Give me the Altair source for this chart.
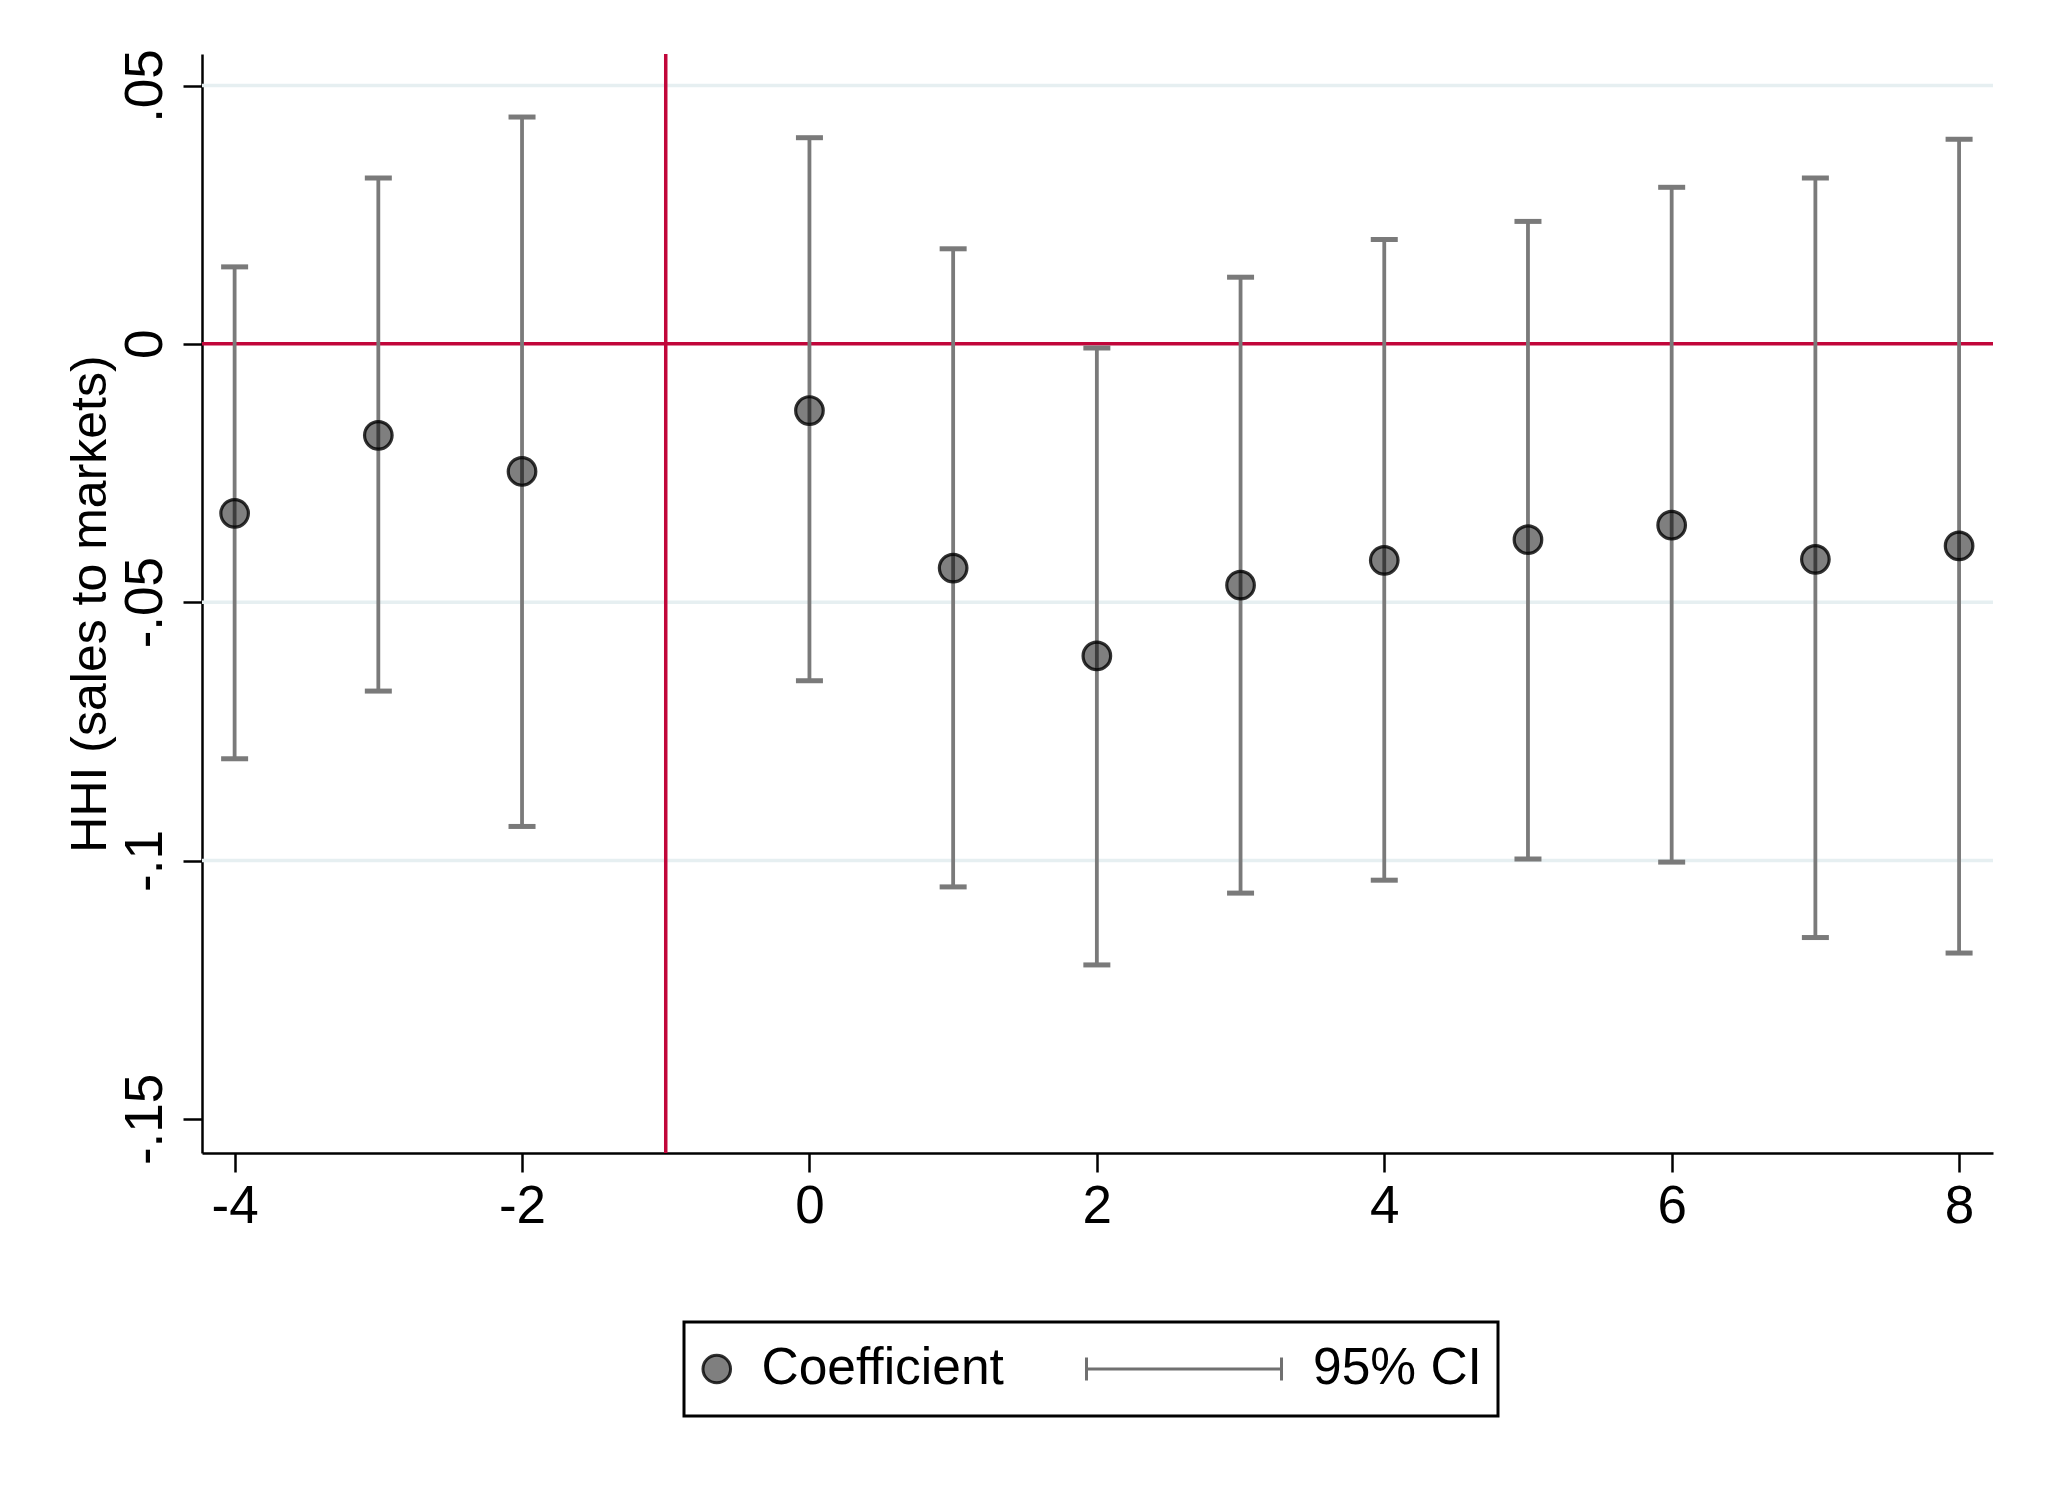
import altair as alt
import pandas as pd

# ---- data ----
periods = [-4, -3, -2, 0, 1, 2, 3, 4, 5, 6, 7, 8]
coef = [-0.0328, -0.0177, -0.0247, -0.0129, -0.0434, -0.0604, -0.0467, -0.0419, -0.0379, -0.0351, -0.0417, -0.0391]
ci_low = [-0.0803, -0.0672, -0.0934, -0.0652, -0.1051, -0.1202, -0.1063, -0.1038, -0.0997, -0.1003, -0.1149, -0.1179]
ci_high = [0.0149, 0.0321, 0.0439, 0.0399, 0.0184, -0.0008, 0.0129, 0.0202, 0.0237, 0.0303, 0.0321, 0.0396]
y_ticks = [0.05, 0, -0.05, -0.1, -0.15]
x_ticks = [-4, -2, 0, 2, 4, 6, 8]
grid_vals = [0.05, -0.05, -0.1]
zero_line = [0]
event_line = [-1]
series_names = ["Coefficient", "95% CI"]
y_title = "HHI (sales to markets)"

df = pd.DataFrame({"period": periods, "coef": coef, "lo": ci_low, "hi": ci_high,
                   "series": [series_names[0]] * len(periods)})
grid_df = pd.DataFrame({"g": grid_vals})
zero_df = pd.DataFrame({"z": zero_line})
event_df = pd.DataFrame({"e": event_line})

FONT = "Liberation Sans"
RED = "#c1063a"
GRAY = "#7a7a7a"
PT_FILL = "rgba(0,0,0,0.5)"
PT_STROKE = "rgba(0,0,0,0.8)"
PT_SIZE = 760

xs = alt.Scale(domain=[-4.227, 8.236], nice=False, zero=False)
ys = alt.Scale(domain=[-0.1566, 0.0561], nice=False, zero=False)

x_axis = alt.Axis(values=x_ticks, title=None, labelExpr="toString(datum.value)",
                  labelPadding=8, labelFlush=False, labelFontSize=53)
y_axis = alt.Axis(values=y_ticks, title=y_title,
                  labelExpr="replace(toString(datum.value), '0.', '.')",
                  labelAngle=270, labelAlign="center", labelBaseline="alphabetic",
                  labelPadding=22, labelFlush=False, labelOverlap=False, labelFontSize=53,
                  titleFontSize=50, titleFontWeight="normal", titlePadding=4)

X = lambda f: alt.X(f, type="quantitative", scale=xs, axis=x_axis)
Y = lambda f: alt.Y(f, type="quantitative", scale=ys, axis=y_axis)

grid = alt.Chart(grid_df).mark_rule(color="#e6eff1", strokeWidth=3.5).encode(y=Y("g"))
hline = alt.Chart(zero_df).mark_rule(color=RED, strokeWidth=3.5).encode(y=Y("z"))
vline = alt.Chart(event_df).mark_rule(color=RED, strokeWidth=3.5).encode(x=X("e"))

stems = alt.Chart(df).mark_rule(color=GRAY, strokeWidth=3.8).encode(
    x=X("period"), y=Y("lo"), y2="hi")

caps = alt.Chart(df).transform_fold(["lo", "hi"], as_=["end", "val"]).mark_tick(
    orient="horizontal", size=27, thickness=5, color=GRAY, opacity=1).encode(
    x=X("period"), y=Y("val"))

points = alt.Chart(df).mark_point(
    shape="circle", filled=True, size=PT_SIZE, fill=PT_FILL, stroke=PT_STROKE,
    strokeWidth=3.2, opacity=1).encode(x=X("period"), y=Y("coef"))

# legend-only layer (no rows drawn); symbols are SVG paths
cx = -0.652
legend_circle = f"M{cx + 1},0A1,1 0 1 1 {cx - 1},0A1,1 0 1 1 {cx + 1},0Z"
ci_path = "M-1,-0.107L-1,0.107M-1,0L0.814,0M0.814,-0.107L0.814,0.107"
legend = alt.Legend(title=None)
sdom = series_names
legend_layer = alt.Chart(df).transform_filter("false").mark_point(
    filled=True, strokeWidth=3.2, opacity=1).encode(
    x=X("period"), y=Y("coef"),
    shape=alt.Shape("series:N", scale=alt.Scale(domain=sdom, range=[legend_circle, ci_path]), legend=legend),
    fill=alt.Fill("series:N", scale=alt.Scale(domain=sdom, range=[PT_FILL, "rgba(0,0,0,0)"]), legend=legend),
    stroke=alt.Stroke("series:N", scale=alt.Scale(domain=sdom, range=[PT_STROKE, "#707070"]), legend=legend),
    size=alt.Size("series:N", scale=alt.Scale(type="point", padding=0, domain=sdom, range=[PT_SIZE, 46225]), legend=legend),
)

chart = alt.layer(grid, hline, vline, stems, caps, points, legend_layer).properties(
    width=1791, height=1099,
    autosize=alt.AutoSizeParams(type="none"),
    padding={"left": 194, "top": 46, "right": 40, "bottom": 320},
    background="white",
).configure_view(strokeWidth=0).configure_axis(
    domainColor="black", domainWidth=2.5, tickColor="black", tickWidth=2.5, tickSize=19,
    labelColor="black", labelFont=FONT, titleFont=FONT, titleColor="black", grid=False,
).configure_legend(
    orient="none", legendX=482, legendY=1268, direction="horizontal",
    padding=16, strokeColor="black", strokeWidth=3, fillColor="white",
    labelFont=FONT, labelFontSize=51.5, labelColor="black", labelOffset=10, labelLimit=0,
    columnPadding=81, symbolStrokeWidth=3, clipHeight=62,
)

chart.save("out.html", embed_options={"renderer": "svg", "actions": False})
